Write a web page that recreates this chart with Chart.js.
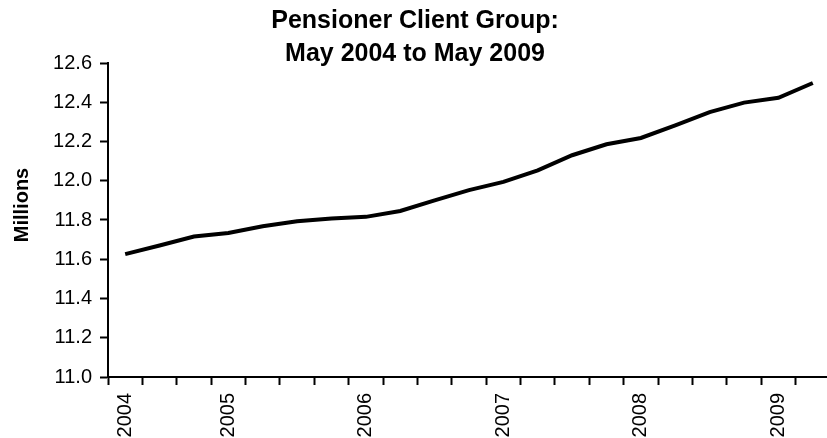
<!DOCTYPE html>
<html>
<head>
<meta charset="utf-8">
<script src="https://cdn.jsdelivr.net/npm/chart.js@4.4.1/dist/chart.umd.min.js"></script>
<style>
  html, body { margin: 0; padding: 0; background: #fff; overflow: hidden; }
  #wrap { width: 830px; height: 438px; }
</style>
</head>
<body>
<div id="wrap"><canvas id="pensionChart" width="830" height="438"></canvas></div>
<script>
// Quarterly readings, May 2004 .. May 2009 (millions)
const quarters = [
  'May 2004', 'Aug 2004', 'Nov 2004',
  'Feb 2005', 'May 2005', 'Aug 2005', 'Nov 2005',
  'Feb 2006', 'May 2006', 'Aug 2006', 'Nov 2006',
  'Feb 2007', 'May 2007', 'Aug 2007', 'Nov 2007',
  'Feb 2008', 'May 2008', 'Aug 2008', 'Nov 2008',
  'Feb 2009', 'May 2009'
];
const pensioners = [
  11.626, 11.670, 11.716,
  11.734, 11.768, 11.794, 11.808,
  11.816, 11.846, 11.900, 11.952,
  11.994, 12.053, 12.130, 12.186,
  12.218, 12.282, 12.350, 12.398,
  12.423, 12.498
];
const yearLabels = [
  '2004', '', '',
  '2005', '', '', '',
  '2006', '', '', '',
  '2007', '', '', '',
  '2008', '', '', '',
  '2009', ''
];
const yTicks = [11.0, 11.2, 11.4, 11.6, 11.8, 12.0, 12.2, 12.4, 12.6];

const FONT = "'Liberation Sans', Arial, sans-serif";

// y axis caption sits a little above the middle of the plot
const sideLabel = {
  id: 'sideLabel',
  afterDraw(chart) {
    const ctx = chart.ctx;
    ctx.save();
    ctx.translate(22, 205);
    ctx.rotate(-Math.PI / 2);
    ctx.font = 'bold 20px ' + FONT;
    ctx.fillStyle = '#000';
    ctx.textAlign = 'center';
    ctx.textBaseline = 'middle';
    ctx.fillText('Millions', 0, 0);
    ctx.restore();
  }
};

const ctx = document.getElementById('pensionChart').getContext('2d');
new Chart(ctx, {
  type: 'line',
  data: {
    labels: quarters,
    datasets: [{
      data: pensioners,
      borderColor: '#000',
      borderWidth: 4,
      pointRadius: 0,
      tension: 0,
      fill: false
    }]
  },
  options: {
    responsive: false,
    animation: false,
    layout: { padding: 0 },
    plugins: {
      legend: { display: false },
      tooltip: { enabled: false },
      title: {
        display: true,
        text: ['Pensioner Client Group:', 'May 2004 to May 2009'],
        color: '#000',
        font: { family: FONT, size: 25, weight: 'bold', lineHeight: 1.34 },
        padding: { top: 4, bottom: -8 }
      }
    },
    scales: {
      x: {
        offset: true,
        grid: {
          offset: true,
          drawOnChartArea: false,
          drawTicks: true,
          tickLength: 8,
          tickWidth: 2,
          tickColor: '#000'
        },
        border: { display: true, color: '#000', width: 2 },
        ticks: {
          autoSkip: false,
          maxRotation: 90,
          minRotation: 90,
          padding: 8,
          color: '#000',
          font: { family: FONT, size: 20 },
          callback: (v, i) => yearLabels[i]
        },
        afterFit(scale) {
          scale.height = 61;
          scale.paddingLeft = 0;
          scale.paddingRight = 0;
        }
      },
      y: {
        min: yTicks[0],
        max: yTicks[yTicks.length - 1],
        grid: {
          drawOnChartArea: false,
          drawTicks: true,
          tickLength: 8,
          tickWidth: 2,
          tickColor: '#000'
        },
        border: { display: true, color: '#000', width: 2 },
        afterBuildTicks(scale) {
          scale.ticks = yTicks.map(v => ({ value: v }));
        },
        ticks: {
          padding: 8,
          color: '#000',
          font: { family: FONT, size: 20 },
          callback: v => Number(v).toFixed(1)
        },
        afterFit(scale) {
          scale.width = 108;
        }
      }
    }
  },
  plugins: [sideLabel]
});
</script>
</body>
</html>
